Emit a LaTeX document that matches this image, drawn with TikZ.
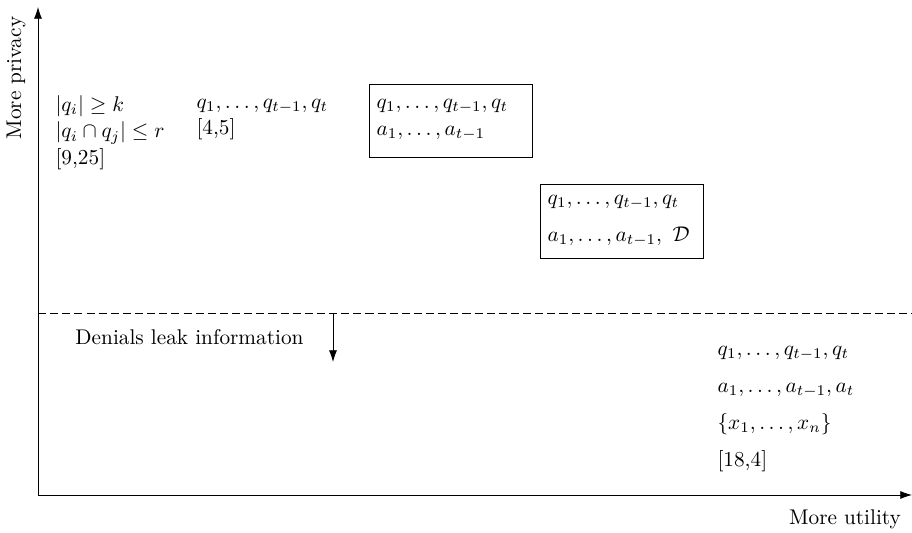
\documentclass[tikz,border=0pt]{standalone}
\usepackage{amsmath, amssymb}
\usepackage{tikz}
\usetikzlibrary{arrows.meta, positioning}

\begin{document}
\begin{tikzpicture}[
    x=0.47pt, y=-0.47pt,
    every node/.style={font=\fontsize{10}{12.6}\selectfont},
    txt/.style={align=left, anchor=west},
    box/.style={draw, align=left, anchor=west, text width=70pt, minimum height=34.6pt},
    arrow/.style={->,>={Latex[length=5.5pt,width=3.8pt]}}
]
\useasboundingbox (0,0) rectangle (912,533);

% Achsen
\coordinate (origin) at (38,495);
\coordinate (ytop) at (38,7);
\coordinate (xend) at (912,495);
\draw [arrow] (origin) -- (ytop);
\draw [arrow] (origin) -- (xend);
\node (privacy) [rotate=90] at (16,78) {More privacy};
\node (utility) at (845,519) {More utility};

% Mechanismen
\node (sizes) [txt] at (48,132.5) {$|q_i| \geq k$\\ $|q_i \cap q_j| \leq r$\\ \relax[9,25]};
\node (queries) [txt] at (189,119.5) {$q_1,\ldots,q_{t-1},q_t$\\ \relax[4,5]};
\node (audit) [box] at (369,121) {$q_1,\ldots,q_{t-1},q_t$\\ $a_1,\ldots,a_{t-1}$\rule[-3.7pt]{0pt}{0pt}};
\node (simul) [box] at (540,221.5) {$q_1,\ldots,q_{t-1},q_t$\\[4.8pt] $a_1,\ldots,a_{t-1},\ \mathcal{D}$\rule[-3pt]{0pt}{0pt}};
\node (full) [txt] at (710,409) {$q_1,\ldots,q_{t-1},q_t$\\[4.8pt] $a_1,\ldots,a_{t-1},a_t$\\[4.8pt] $\{x_1,\ldots,x_n\}$\\[4.8pt] \relax[18,4]};

% Grenze
\coordinate (dashL) at (38,313);
\coordinate (dashR) at (912,313);
\draw [dash pattern=on 3.8pt off 1.9pt] (dashL) -- (dashR);
\coordinate (leakTop) at (333,313);
\coordinate (leakEnd) at (333,362);
\draw [arrow] (leakTop) -- (leakEnd);
\node (leak) at (189.5,337) {Denials leak information};

\end{tikzpicture}
\end{document}
